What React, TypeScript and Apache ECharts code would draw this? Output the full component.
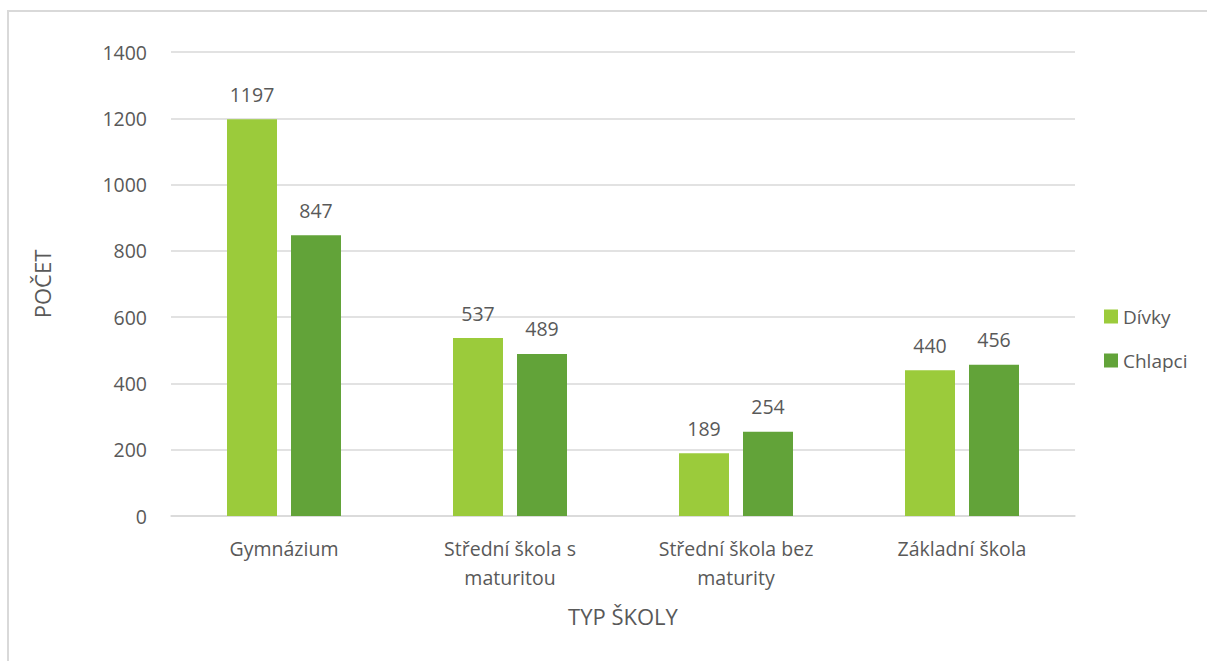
import React, { useEffect, useRef } from "react";
import * as echarts from "echarts";

const categories = ["Gymnázium", "Střední škola s\nmaturitou", "Střední škola bez\nmaturity", "Základní škola"];
const divky = [1197, 537, 189, 440];
const chlapci = [847, 489, 254, 456];
const seriesNames = ["Dívky", "Chlapci"];
const yAxisName = "POČET";
const xAxisName = "TYP ŠKOLY";

const FONT = "Open Sans";
const TXT = "#595959";

export default function App() {
  const ref = useRef<HTMLDivElement>(null);
  useEffect(() => {
    const chart = echarts.init(ref.current!, null, { renderer: "svg" });
    chart.setOption({
      animation: false,
      textStyle: { fontFamily: FONT, color: TXT },
      graphic: [
        {
          type: "rect",
          shape: { x: 8, y: 11, width: 1220, height: 680 },
          style: { fill: "none", stroke: "#d9d9d9", lineWidth: 2 },
          silent: true,
        },
      ],
      legend: {
        orient: "vertical",
        left: 1099,
        top: 298,
        itemWidth: 14,
        itemHeight: 14,
        itemGap: 17,
        icon: "rect",
        textStyle: { fontFamily: FONT, fontSize: 19, color: TXT, lineHeight: 27 },
        data: seriesNames,
      },
      grid: { left: 171, right: 132, top: 52, bottom: 145, containLabel: false },
      xAxis: {
        type: "category",
        data: categories,
        name: xAxisName,
        nameLocation: "middle",
        nameGap: 89,
        nameTextStyle: { fontFamily: FONT, fontSize: 22, color: TXT },
        axisLine: { lineStyle: { color: "#d9d9d9", width: 1.5 } },
        axisTick: { show: false },
        axisLabel: {
          fontFamily: FONT,
          fontSize: 19.5,
          color: TXT,
          margin: 18,
          lineHeight: 29,
          interval: 0,
        },
      },
      yAxis: {
        type: "value",
        min: 0,
        max: 1400,
        interval: 200,
        name: yAxisName,
        nameLocation: "middle",
        nameGap: 118,
        nameRotate: 90,
        nameTextStyle: { fontFamily: FONT, fontSize: 22, color: TXT },
        axisLine: { show: false },
        axisTick: { show: false },
        splitLine: { lineStyle: { color: "#d9d9d9", width: 1.5 } },
        axisLabel: {
          fontFamily: FONT,
          fontSize: 19.5,
          color: TXT,
          margin: 24,
          formatter: (v: number) => String(v),
        },
      },
      series: [
        {
          name: seriesNames[0],
          type: "bar",
          data: divky,
          barWidth: 50,
          barGap: "28%",
          itemStyle: { color: "#9BCB3B" },
          label: { show: true, position: "top", distance: 15, fontFamily: FONT, fontSize: 19.5, color: TXT },
        },
        {
          name: seriesNames[1],
          type: "bar",
          data: chlapci,
          barWidth: 50,
          barGap: "28%",
          itemStyle: { color: "#62A339" },
          label: { show: true, position: "top", distance: 15, fontFamily: FONT, fontSize: 19.5, color: TXT },
        },
      ],
    });
    return () => chart.dispose();
  }, []);
  return (
    <div
      ref={ref}
      style={{ position: "fixed", left: 0, top: 0, width: 1207, height: 661, background: "#fff" }}
    />
  );
}
